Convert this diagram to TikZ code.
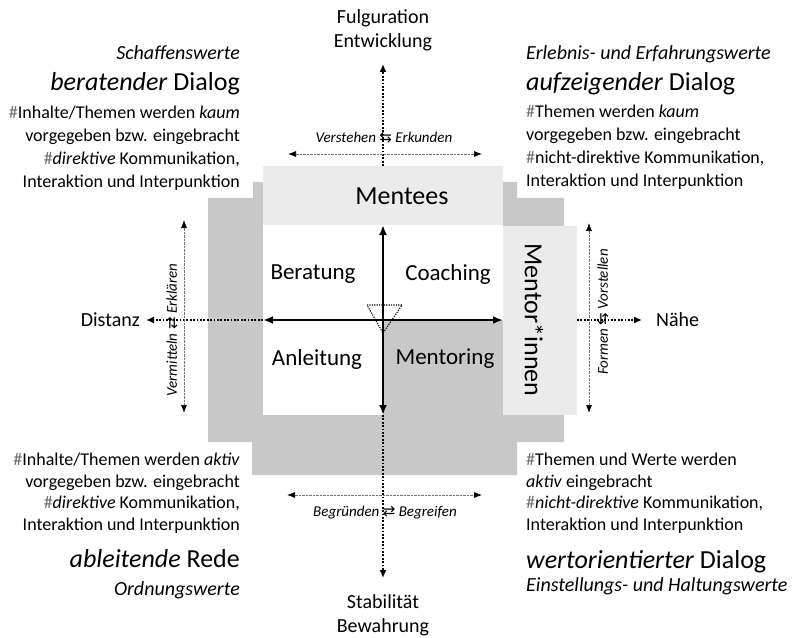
\documentclass[tikz,border=0pt]{standalone}
\usepackage{fontspec}
\setmainfont{Carlito}
\newfontfamily\arrowfont{DejaVu Sans}
\usetikzlibrary{arrows.meta}

\definecolor{bggray}{RGB}{200,200,200}
\definecolor{palegray}{RGB}{235,235,235}
\definecolor{hashgray}{RGB}{110,110,110}

\newcommand{\hs}{{\color{hashgray}\#}}
\newcommand{\fs}[2]{\fontsize{#1bp}{#2bp}\selectfont}
\newcommand{\lr}{{\arrowfont\upshape ⇆}}
\newcommand{\rl}{{\arrowfont\upshape ⇄}}

\tikzset{
  axisarrow/.style={line width=2.2bp, {Latex[length=10bp,width=8bp]}-{Latex[length=10bp,width=8bp]}},
  dotaxis/.style={line width=1.8bp, dash pattern=on 1.8bp off 1.6bp, -{Latex[length=8bp,width=7bp]}},
  thinpair/.style={line width=0.7bp, draw=black!55, dash pattern=on 0.8bp off 0.6bp,
    {Latex[length=8bp,width=6bp,color=black]}-{Latex[length=8bp,width=6bp,color=black]}},
  lbl/.style={inner sep=0pt, font=\fs{20}{24}},
  quad/.style={inner sep=0pt, font=\fs{23}{27}},
  big/.style={inner sep=0pt, font=\fs{26}{30}},
  pairlbl/.style={inner sep=0pt, font=\fs{15}{18}\itshape},
  bodyL/.style={inner sep=0pt, anchor=base east, align=right, font=\fs{18}{23}},
  bodyR/.style={inner sep=0pt, anchor=base west, align=left, font=\fs{18}{23}},
  bodyLb/.style={bodyL, font=\fs{18}{21.5}},
  bodyRb/.style={bodyR, font=\fs{18}{21.5}},
}

\begin{document}
\begin{tikzpicture}[x=1bp,y=-1bp]
\useasboundingbox (0,0) rectangle (805,638);

% stepped background shape
\fill[bggray] (253,182) -- (517,182) -- (517,198) -- (564,198) -- (564,442) -- (517,442)
  -- (517,475) -- (252,475) -- (252,442) -- (208,442) -- (208,198) -- (253,198) -- cycle;

% boxes
\fill[palegray] (263,166) rectangle (503,225);
\fill[white] (263,225) rectangle (503,415);
\fill[bggray] (383,320) rectangle (503,415);
\fill[palegray] (503,226) rectangle (577,415);

\node[big] (mentees) at (402,196) {Mentees};
\node[big, rotate=-90] (mentor) at (534,320) {Mentor*innen};

\node[quad] (beratung) at (313,274) {Beratung};
\node[quad] (coaching) at (448,274) {Coaching};
\node[quad] (anleitung) at (317,359) {Anleitung};
\node[quad] (mentoring) at (445,359) {Mentoring};

% dotted outer axes
\coordinate (tTop) at (383,166);
\coordinate (tBot) at (383,415);
\coordinate (tLeft) at (263,320);
\coordinate (tRight) at (577,320);
\coordinate (uTip) at (383,64);
\coordinate (dTip) at (383,578);
\coordinate (lTip) at (146,320);
\coordinate (rTip) at (642,320);
\draw[dotaxis] (tTop) -- (uTip);
\draw[dotaxis] (tBot) -- (dTip);
\draw[dotaxis] (tLeft) -- (lTip);
\draw[dotaxis] (tRight) -- (rTip);

% main axes
\coordinate (aL) at (263,320);
\coordinate (aR) at (503,320);
\coordinate (aT) at (383,225);
\coordinate (aB) at (383,415);
\draw[axisarrow] (aL) -- (aR);
\draw[axisarrow] (aT) -- (aB);

% dotted triangle at the centre
\coordinate (triA) at (367,305);
\coordinate (triB) at (402,305);
\coordinate (triC) at (383,333);
\draw[line width=1.1bp, dash pattern=on 1.2bp off 1.2bp] (triA) -- (triB) -- (triC) -- cycle;

% thin double arrows
\coordinate (pt1) at (288,154);
\coordinate (pt2) at (482,154);
\coordinate (pb1) at (287,495);
\coordinate (pb2) at (482,495);
\coordinate (pl1) at (184,220);
\coordinate (pl2) at (184,413);
\coordinate (pr1) at (589,223);
\coordinate (pr2) at (589,413);
\draw[thinpair] (pt1) -- (pt2);
\draw[thinpair] (pb1) -- (pb2);
\draw[thinpair] (pl1) -- (pl2);
\draw[thinpair] (pr1) -- (pr2);

\node[pairlbl] (ver) at (384,138) {Verstehen \lr{} Erkunden};
\node[pairlbl] (beg) at (385,513) {Begründen \rl{} Begreifen};
\node[pairlbl, rotate=90] (verm) at (172,330) {Vermitteln \rl{} Erklären};
\node[pairlbl, rotate=90] (form) at (603,312) {Formen \lr{} Vorstellen};

% axis end labels
\node[lbl, align=center] (top) at (383,30) {Fulguration\\Entwicklung};
\node[lbl, align=center] (bot) at (383,615) {Stabilität\\Bewahrung};
\node[lbl, anchor=east] (dist) at (140,320) {Distanz};
\node[lbl, anchor=west] (nah) at (656,320) {Nähe};

% top left
\node[bodyL, font=\fs{20}{24}\itshape] (tlA) at (240,60) {Schaffenswerte};
\node[bodyL, font=\fs{26}{30}] (tlB) at (240,91) {\textit{beratender} Dialog};
\node[bodyL] (tlC) at (240,188) {\hs Inhalte/Themen werden \textit{kaum}\\
  vorgegeben bzw. eingebracht\\
  \hs\textit{direktive} Kommunikation,\\
  Interaktion und Interpunktion};

% top right
\node[bodyR, font=\fs{20}{24}\itshape] (trA) at (526,60) {Erlebnis- und Erfahrungswerte};
\node[bodyR, font=\fs{26}{30}] (trB) at (526,91) {\textit{aufzeigender} Dialog};
\node[bodyR] (trC) at (526,187) {\hs Themen werden \textit{kaum}\\
  vorgegeben bzw. eingebracht\\
  \hs nicht-direktive Kommunikation,\\
  Interaktion und Interpunktion};

% bottom left
\node[bodyLb] (blC) at (240,530) {\hs Inhalte/Themen werden \textit{aktiv}\\
  vorgegeben bzw. eingebracht\\
  \hs\textit{direktive} Kommunikation,\\
  Interaktion und Interpunktion};
\node[bodyL, font=\fs{26}{30}] (blB) at (240,567) {\textit{ableitende} Rede};
\node[bodyL, font=\fs{20}{24}\itshape] (blA) at (240,595) {Ordnungswerte};

% bottom right
\node[bodyRb] (brC) at (526,530) {\hs Themen und Werte werden\\
  \textit{aktiv} eingebracht\\
  \hs\textit{nicht-direktive} Kommunikation,\\
  Interaktion und Interpunktion};
\node[bodyR, font=\fs{26}{30}] (brB) at (526,568) {\textit{wertorientierter} Dialog};
\node[bodyR, font=\fs{20}{24}\itshape] (brA) at (526,591) {Einstellungs- und Haltungswerte};
\end{tikzpicture}
\end{document}
